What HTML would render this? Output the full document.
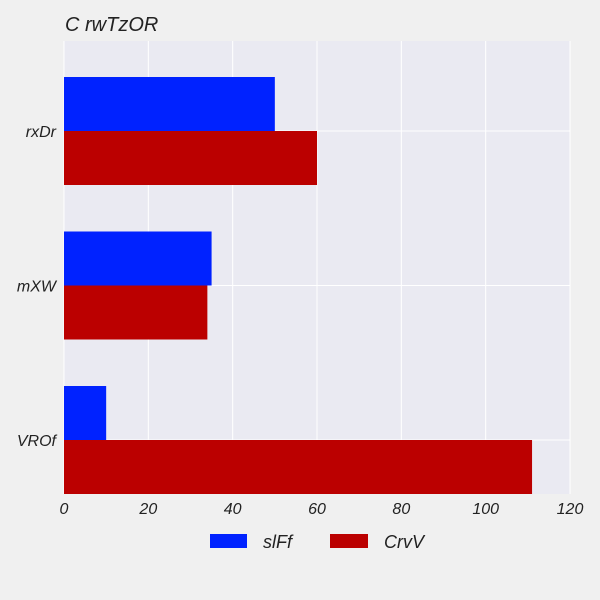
<!DOCTYPE html>
<html><head><meta charset="utf-8"><style>
html,body{margin:0;padding:0;background:#f0f0f0;}
svg{display:block;font-family:"Liberation Sans",sans-serif;font-style:italic;}
</style></head><body>
<svg id="chart" width="600" height="600" xmlns="http://www.w3.org/2000/svg">
<rect width="600" height="600" fill="#f0f0f0"/>
<text x="65" y="31" font-size="20" fill="#222">C rwTzOR</text>
<rect x="64" y="41" width="506" height="453" fill="#eaeaf2"/>
<g id="grid"></g><g id="bars"></g><g id="ticks"></g>
<g>
<rect x="210" y="534" width="37" height="14" fill="#0022ff"/>
<text x="263" y="548" font-size="18" fill="#222">slFf</text>
<rect x="330" y="534" width="38" height="14" fill="#bb0000"/>
<text x="384" y="548" font-size="18" fill="#222">CrvV</text>
</g>
</svg>
<script>
const categories = ["rxDr","mXW","VROf"];
const seriesSlFf = [50,35,10];
const seriesCrvV = [60,34,111];
const xTicks = [0,20,40,60,80,100,120];
const NS="http://www.w3.org/2000/svg";
const x0=64,x1=570,xMax=120;
function xs(v){return x0+(x1-x0)*v/xMax;}
function yc(i){return 131+154.5*i;}
const bh=54;
function mk(tag,attrs,parent){const e=document.createElementNS(NS,tag);for(const k in attrs)e.setAttribute(k,attrs[k]);document.getElementById(parent).appendChild(e);return e;}
xTicks.forEach(t=>{
  const l=mk('line',{x1:xs(t),x2:xs(t),y1:41,y2:494,stroke:'#fff','stroke-width':1},'grid');
  
  
  const tx=mk('text',{x:xs(t),y:514,'font-size':16,fill:'#222','text-anchor':'middle'},'ticks');
  tx.textContent=t;
  
  
});
categories.forEach((c,i)=>{
  const l=mk('line',{x1:64,x2:570,y1:yc(i),y2:yc(i),stroke:'#fff','stroke-width':1},'grid');
  
  
  const tx=mk('text',{x:56,y:yc(i)+6,'font-size':16,fill:'#222','text-anchor':'end'},'ticks');
  tx.textContent=c;
  
  
  const b1=mk('rect',{x:xs(0),y:yc(i)-bh,width:xs(seriesSlFf[i])-xs(0),height:bh,fill:'#0022ff'},'bars');
  
  
  const b2=mk('rect',{x:xs(0),y:yc(i),width:xs(seriesCrvV[i])-xs(0),height:bh,fill:'#bb0000'},'bars');
  
  
});
</script>
</body></html>
